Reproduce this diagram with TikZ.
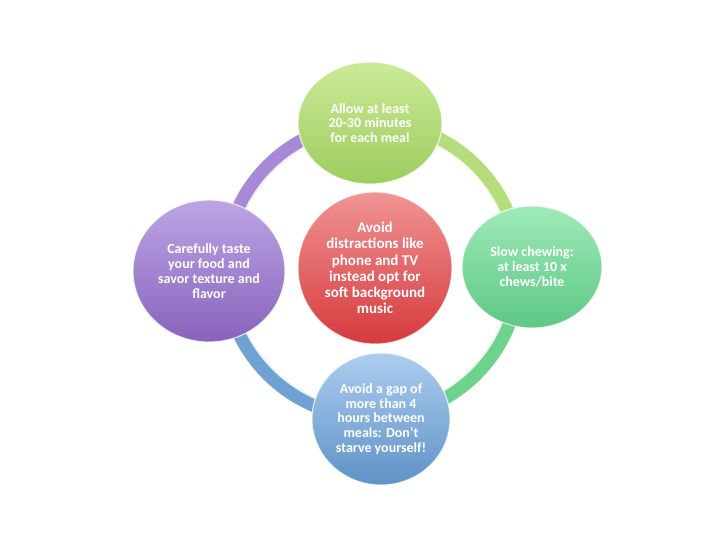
\documentclass[tikz,border=0pt]{standalone}
\usepackage{fontspec}
\setmainfont{Carlito}
\usetikzlibrary{shapes.geometric,calc}
\definecolor{limeT}{HTML}{CBEA97}
\definecolor{limeB}{HTML}{9DCD5E}
\definecolor{mintT}{HTML}{9EEAB8}
\definecolor{mintB}{HTML}{5DC884}
\definecolor{redT}{HTML}{F09494}
\definecolor{redB}{HTML}{D63A3D}
\definecolor{purT}{HTML}{BDA5E4}
\definecolor{purB}{HTML}{8763BC}
\definecolor{bluT}{HTML}{ACCDEF}
\definecolor{bluB}{HTML}{5E92C7}
\definecolor{ringP}{HTML}{A78AD5}
\definecolor{ringL}{HTML}{B6DD7B}
\definecolor{ringG}{HTML}{6ED28E}
\definecolor{ringB}{HTML}{6FA1D2}
\tikzset{
  bubble/.style={ellipse, inner sep=0pt, align=center, text=white,
    font=\bfseries\fontsize{14}{14.8}\selectfont,
    draw=white, draw opacity=0.75, line width=1.1pt},
  ringseg/.style={line width=14pt, line cap=butt},
  ringhi/.style={line width=1pt, white, opacity=0.9}
}
\begin{document}
\begin{tikzpicture}[x=1pt,y=-1pt]
\useasboundingbox (0,0) rectangle (720,540);
\fill[white] (0,0) rectangle (720,540);
\coordinate (ctr) at (372,270);
% ring segments
\draw[ringseg, ringP] ($(ctr)+(180:147)$) arc[start angle=180, end angle=270, radius=147];
\draw[ringseg, ringL] ($(ctr)+(270:147)$) arc[start angle=270, end angle=360, radius=147];
\draw[ringseg, ringG] ($(ctr)+(0:147)$) arc[start angle=0, end angle=90, radius=147];
\draw[ringseg, ringB] ($(ctr)+(90:147)$) arc[start angle=90, end angle=180, radius=147];
\draw[ringhi] (ctr) circle[radius=140.5];
% circles
\node[bubble, minimum width=144pt, minimum height=122pt, top color=limeT, bottom color=limeB] (top) at (370,123)
  {Allow at least\\20-30 minutes\\for each meal};
\node[bubble, minimum width=140pt, minimum height=122pt, top color=mintT, bottom color=mintB] (right) at (532,267)
  {Slow chewing:\\at least 10 x\\chews/bite};
\node[bubble, minimum width=152pt, minimum height=142pt, top color=purT, bottom color=purB] (left) at (209,271)
  {Carefully taste\\your food and\\savor texture and\\flavor};
\node[bubble, minimum width=138pt, minimum height=132pt, top color=bluT, bottom color=bluB] (bottom) at (381,419)
  {Avoid a gap of\\more than 4\\hours between\\meals: Don’t\\starve yourself!};
\node[bubble, minimum width=154pt, minimum height=152pt, top color=redT, bottom color=redB,
  font=\bfseries\fontsize{15}{16.2}\selectfont] (mid) at (375,268)
  {Avoid\\distractions like\\phone and TV\\instead opt for\\soft background\\music};
\end{tikzpicture}
\end{document}
